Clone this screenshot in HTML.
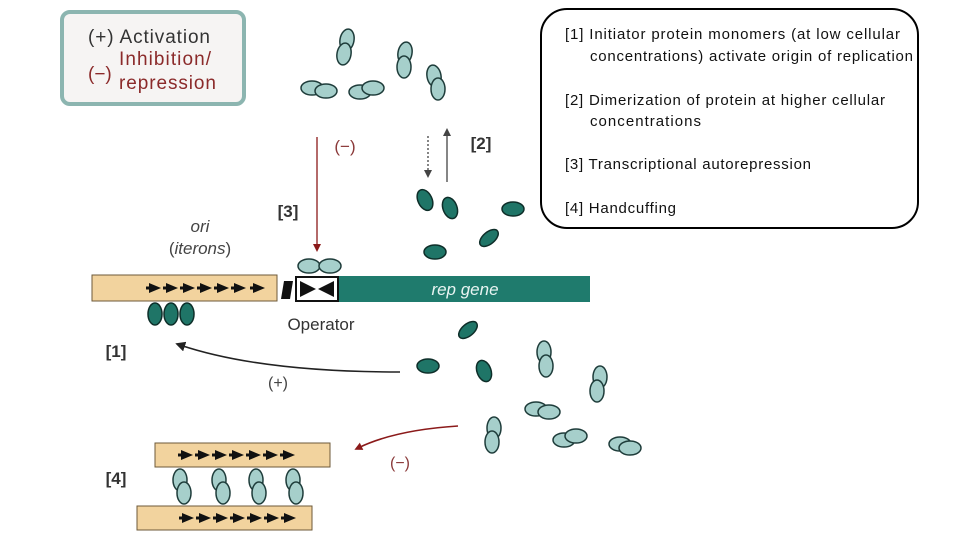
<!DOCTYPE html>
<html><head><meta charset="utf-8"><style>
body{margin:0;background:#fff;width:960px;height:540px;overflow:hidden}
svg{display:block}
</style></head><body>
<svg width="960" height="540" viewBox="0 0 960 540" xmlns="http://www.w3.org/2000/svg" font-family="Liberation Sans, sans-serif">
<defs>
<marker id="ar" markerWidth="8" markerHeight="8" refX="4" refY="4" orient="auto" markerUnits="userSpaceOnUse"><path d="M0,0 L8,4 L0,8z" fill="#8b1a1a"/></marker>
<marker id="ab" markerWidth="10" markerHeight="10" refX="5" refY="5" orient="auto" markerUnits="userSpaceOnUse"><path d="M0,0 L10,5 L0,10z" fill="#222"/></marker>
<g id="tri"><path d="M0,-5 L12,0 L0,5z" fill="#111"/><rect x="-3" y="-1.5" width="5" height="3" fill="#111"/></g>
</defs>
<!-- legend -->
<rect x="62" y="12" width="182" height="92" rx="8" fill="#f6f4f3" stroke="#8cb5b0" stroke-width="4"/>
<text x="88" y="43" font-size="19" fill="#333" textLength="122">(+) Activation</text>
<text x="88" y="80" font-size="19" fill="#8b2a2a">(−)</text>
<text x="119" y="65" font-size="19" fill="#8b2a2a" textLength="92">Inhibition/</text>
<text x="119" y="89" font-size="19" fill="#8b2a2a" textLength="97">repression</text>
<!-- callout -->
<rect x="541" y="9" width="377" height="219" rx="26" fill="#fff" stroke="#000" stroke-width="2"/>
<g font-size="15" fill="#111">
<text x="565" y="39" textLength="335">[1] Initiator protein monomers (at low cellular</text>
<text x="590" y="61" textLength="323">concentrations) activate origin of replication</text>
<text x="565" y="105" textLength="320">[2] Dimerization of protein at higher cellular</text>
<text x="590" y="126" textLength="111">concentrations</text>
<text x="565" y="169" textLength="246">[3] Transcriptional autorepression</text>
<text x="565" y="213" textLength="111">[4] Handcuffing</text>
</g>
<!-- light dimers -->
<g fill="#a6cfcb" stroke="#1e3c3a" stroke-width="1.5">
<ellipse cx="347" cy="40" rx="7" ry="11" transform="rotate(10 347 40)"/><ellipse cx="344" cy="54" rx="7" ry="11" transform="rotate(10 344 54)"/>
<ellipse cx="405" cy="53" rx="7" ry="11" transform="rotate(10 405 53)"/><ellipse cx="404" cy="67" rx="7" ry="11"/>
<ellipse cx="434" cy="76" rx="7" ry="11" transform="rotate(-10 434 76)"/><ellipse cx="438" cy="89" rx="7" ry="11"/>
<ellipse cx="312" cy="88" rx="11" ry="7"/><ellipse cx="326" cy="91" rx="11" ry="7"/>
<ellipse cx="360" cy="92" rx="11" ry="7"/><ellipse cx="373" cy="88" rx="11" ry="7"/>
<ellipse cx="309" cy="266" rx="11" ry="7"/><ellipse cx="330" cy="266" rx="11" ry="7"/>
<ellipse cx="544" cy="352" rx="7" ry="11"/><ellipse cx="546" cy="366" rx="7" ry="11"/>
<ellipse cx="600" cy="377" rx="7" ry="11"/><ellipse cx="597" cy="391" rx="7" ry="11"/>
<ellipse cx="536" cy="409" rx="11" ry="7"/><ellipse cx="549" cy="412" rx="11" ry="7"/>
<ellipse cx="494" cy="428" rx="7" ry="11"/><ellipse cx="492" cy="442" rx="7" ry="11"/>
<ellipse cx="564" cy="440" rx="11" ry="7"/><ellipse cx="576" cy="436" rx="11" ry="7"/>
<ellipse cx="620" cy="444" rx="11" ry="7"/><ellipse cx="630" cy="448" rx="11" ry="7"/>
<ellipse cx="180" cy="480" rx="7" ry="11"/><ellipse cx="184" cy="493" rx="7" ry="11"/>
<ellipse cx="219" cy="480" rx="7" ry="11"/><ellipse cx="223" cy="493" rx="7" ry="11"/>
<ellipse cx="256" cy="480" rx="7" ry="11"/><ellipse cx="259" cy="493" rx="7" ry="11"/>
<ellipse cx="293" cy="480" rx="7" ry="11"/><ellipse cx="296" cy="493" rx="7" ry="11"/>
</g>
<!-- dark monomers -->
<g fill="#1f7567" stroke="#0e2e29" stroke-width="1.5">
<ellipse cx="425" cy="200" rx="7" ry="11" transform="rotate(-25 425 200)"/>
<ellipse cx="450" cy="208" rx="7" ry="11" transform="rotate(-20 450 208)"/>
<ellipse cx="513" cy="209" rx="11" ry="7"/>
<ellipse cx="489" cy="238" rx="11" ry="6" transform="rotate(-40 489 238)"/>
<ellipse cx="435" cy="252" rx="11" ry="7"/>
<ellipse cx="468" cy="330" rx="11" ry="6" transform="rotate(-40 468 330)"/>
<ellipse cx="428" cy="366" rx="11" ry="7"/>
<ellipse cx="484" cy="371" rx="7" ry="11" transform="rotate(-20 484 371)"/>
<ellipse cx="155" cy="314" rx="7" ry="11"/><ellipse cx="171" cy="314" rx="7" ry="11"/><ellipse cx="187" cy="314" rx="7" ry="11"/>
</g>
<!-- DNA -->
<rect x="92" y="275" width="185" height="26" fill="#f2d39e" stroke="#6d5a3a" stroke-width="1"/>
<g><use href="#tri" x="149" y="288"/><use href="#tri" x="166" y="288"/><use href="#tri" x="183" y="288"/><use href="#tri" x="200" y="288"/><use href="#tri" x="217" y="288"/><use href="#tri" x="234" y="288"/><use href="#tri" x="253" y="288"/></g>
<path d="M284,281 L293,281 L290,299 L281,299z" fill="#111"/>
<rect x="338" y="276" width="252" height="26" fill="#1f7b6d"/>
<rect x="296" y="277" width="42" height="24" fill="#fff" stroke="#111" stroke-width="2"/>
<path d="M300,281 L316,289 L300,297z M334,281 L318,289 L334,297z" fill="#111"/>
<text x="465" y="295" font-size="17" font-style="italic" fill="#e8f4f2" text-anchor="middle">rep gene</text>
<text x="321" y="330" font-size="17" fill="#333" text-anchor="middle">Operator</text>
<text x="200" y="232" font-size="17" font-style="italic" fill="#444" text-anchor="middle">ori</text>
<text x="200" y="254" font-size="17" fill="#444" text-anchor="middle">(<tspan font-style="italic">iterons</tspan>)</text>
<!-- arrows -->
<line x1="317" y1="137" x2="317" y2="248" stroke="#8b1a1a" stroke-width="1.3" marker-end="url(#ar)"/>
<text x="345" y="152" font-size="17" fill="#8b3a3a" text-anchor="middle">(−)</text>
<text x="288" y="217" font-size="17" font-weight="bold" fill="#333" text-anchor="middle">[3]</text>
<line x1="428" y1="136" x2="428" y2="172" stroke="#444" stroke-width="1.3" stroke-dasharray="2,2"/>
<path d="M424,170 L432,170 L428,178z" fill="#444"/>
<line x1="447" y1="182" x2="447" y2="134" stroke="#444" stroke-width="1.3"/>
<path d="M443,136 L451,136 L447,128z" fill="#444"/>
<text x="481" y="149" font-size="17" font-weight="bold" fill="#333" text-anchor="middle">[2]</text>
<path d="M400,372 Q260,372 180,345" fill="none" stroke="#222" stroke-width="1.6" marker-end="url(#ab)"/>
<text x="278" y="388" font-size="16" fill="#444" text-anchor="middle">(+)</text>
<text x="116" y="357" font-size="17" font-weight="bold" fill="#333" text-anchor="middle">[1]</text>
<path d="M458,426 Q395,430 358,448" fill="none" stroke="#8b1a1a" stroke-width="1.6" marker-end="url(#ar)"/>
<text x="400" y="468" font-size="16" fill="#8b3a3a" text-anchor="middle">(−)</text>
<text x="116" y="484" font-size="17" font-weight="bold" fill="#333" text-anchor="middle">[4]</text>
<!-- handcuff bars -->
<rect x="155" y="443" width="175" height="24" fill="#f2d39e" stroke="#6d5a3a"/>
<g><use href="#tri" x="181" y="455"/><use href="#tri" x="198" y="455"/><use href="#tri" x="215" y="455"/><use href="#tri" x="232" y="455"/><use href="#tri" x="249" y="455"/><use href="#tri" x="266" y="455"/><use href="#tri" x="283" y="455"/></g>
<rect x="137" y="506" width="175" height="24" fill="#f2d39e" stroke="#6d5a3a"/>
<g><use href="#tri" x="182" y="518"/><use href="#tri" x="199" y="518"/><use href="#tri" x="216" y="518"/><use href="#tri" x="233" y="518"/><use href="#tri" x="250" y="518"/><use href="#tri" x="267" y="518"/><use href="#tri" x="284" y="518"/></g>
</svg>
</body></html>
